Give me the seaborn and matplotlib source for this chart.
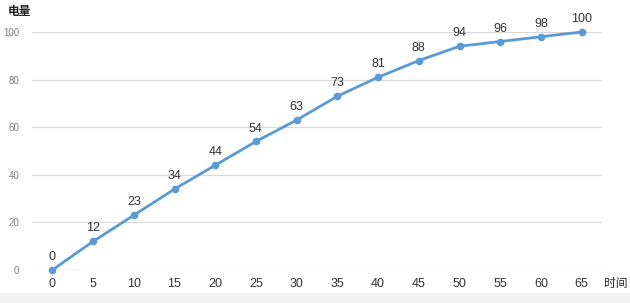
import matplotlib
matplotlib.use("Agg")
import matplotlib.pyplot as plt
import seaborn as sns
import pandas as pd
from matplotlib.patches import Rectangle

times = [0, 5, 10, 15, 20, 25, 30, 35, 40, 45, 50, 55, 60, 65]
charge = [0, 12, 23, 34, 44, 54, 63, 73, 81, 88, 94, 96, 98, 100]
y_ticks = [0, 20, 40, 60, 80, 100]

sns.set_style("white")
plt.rcParams['font.family'] = ['Liberation Sans', 'Noto Sans CJK SC', 'DejaVu Sans']

W, H = 630, 303
fig = plt.figure(figsize=(W/100, H/100), dpi=100)
left, right, top, bottom = 32, 602, 32, 270
ax = fig.add_axes([left/W, 1-bottom/H, (right-left)/W, (bottom-top)/H])

df = pd.DataFrame({"pos": range(len(times)), "charge": charge})
sns.lineplot(data=df, x="pos", y="charge", ax=ax, color="#5B9BD5", linewidth=2.0,
             marker="o", markersize=5.5, markeredgewidth=0, clip_on=False)

ax.set_xlim(-0.5, len(times)-0.5)
ax.set_ylim(0, 100)
ax.set_yticks(y_ticks)
ax.set_yticklabels([str(v) for v in y_ticks], fontsize=7, color="#7F7F7F")
ax.set_xticks(range(len(times)))
ax.set_xticklabels([str(t) for t in times], fontsize=9, color="#333333")
ax.tick_params(axis='both', length=0, pad=6)
ax.tick_params(axis='y', pad=9)
ax.grid(axis='y', color="#D9D9D9", linewidth=0.9)
for s in ax.spines.values():
    s.set_visible(False)
ax.axhline(0, color="#D9D9D9", linewidth=0.9, zorder=0)
ax.set_xlabel("")
ax.set_ylabel("")

for i, v in enumerate(charge):
    ax.annotate(str(v), (i, v), xytext=(0, 5), textcoords="offset points",
                ha="center", va="bottom", fontsize=9, color="#333333")

fig.text(8/W, 1-12/H, "电量", fontsize=8.5, color="#222222", va="center", ha="left",
         fontweight="bold", family=['Noto Sans CJK SC', 'DejaVu Sans'])
fig.text(604/W, 1-283/H, "时间", fontsize=8.5, color="#222222", va="center", ha="left",
         family=['Noto Sans CJK SC', 'DejaVu Sans'])

fig.patches.append(Rectangle((0, 0), 1, 10/H, transform=fig.transFigure,
                             facecolor="#F2F2F2", edgecolor="none", zorder=-1))

fig.savefig("out.png", dpi=100)
